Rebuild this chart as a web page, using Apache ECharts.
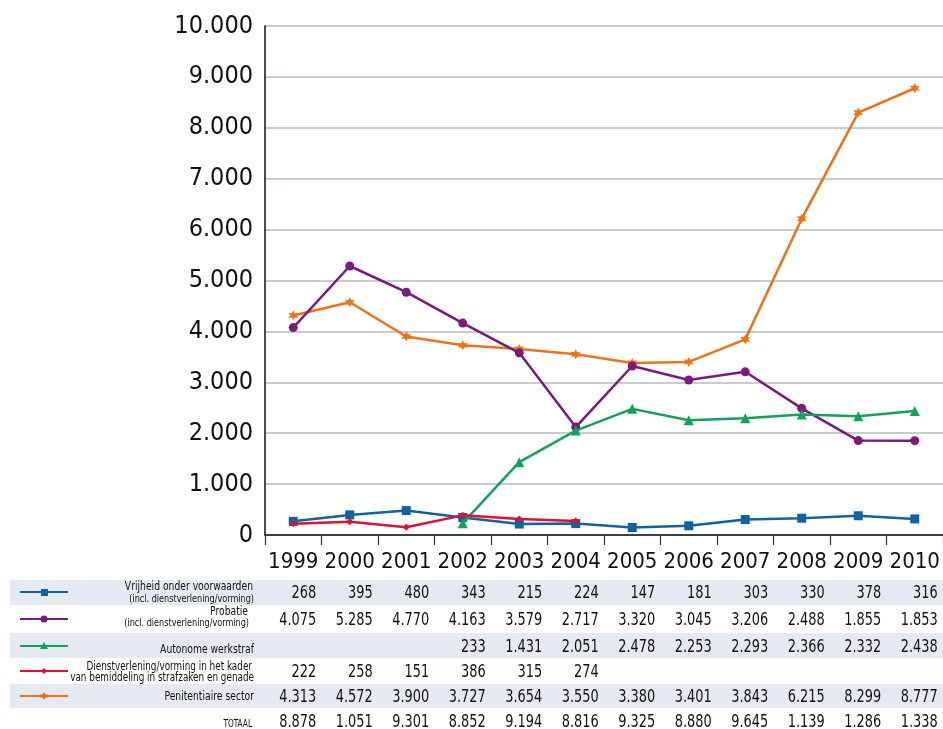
<!DOCTYPE html>
<html><head><meta charset="utf-8">
<script src="https://cdn.jsdelivr.net/npm/echarts@6/dist/echarts.min.js"></script>
<style>html,body{margin:0;padding:0;background:#fff}#c{width:943px;height:729px}</style>
</head><body><div id="c"></div>
<script>
const years = ['1999','2000','2001','2002','2003','2004','2005','2006','2007','2008','2009','2010'];
const yTicks = [0,1000,2000,3000,4000,5000,6000,7000,8000,9000,10000];
const vrijheid = [268,395,480,343,215,224,147,181,303,330,378,316];
const probatie = [4075,5285,4770,4163,3579,2120,3320,3045,3206,2488,1855,1853];
const autonome = [null,null,null,233,1431,2051,2478,2253,2293,2366,2332,2438];
const dienst = [222,258,151,386,315,274,null,null,null,null,null,null];
const penitentiair = [4313,4572,3900,3727,3654,3550,3380,3401,3843,6215,8299,8777];
const tblVrijheid = ['268','395','480','343','215','224','147','181','303','330','378','316'];
const tblProbatie = ['4.075','5.285','4.770','4.163','3.579','2.717','3.320','3.045','3.206','2.488','1.855','1.853'];
const tblAutonome = ['','','','233','1.431','2.051','2.478','2.253','2.293','2.366','2.332','2.438'];
const tblDienst = ['222','258','151','386','315','274','','','','','',''];
const tblPenit = ['4.313','4.572','3.900','3.727','3.654','3.550','3.380','3.401','3.843','6.215','8.299','8.777'];
const tblTotaal = ['8.878','1.051','9.301','8.852','9.194','8.816','9.325','8.880','9.645','1.139','1.286','1.338'];
const names = [
  ['Vrijheid onder voorwaarden','(incl. dienstverlening/vorming)'],
  ['Probatie','(incl. dienstverlening/vorming)'],
  ['Autonome werkstraf'],
  ['Dienstverlening/vorming in het kader','van bemiddeling in strafzaken en genade'],
  ['Penitentiaire sector'],
  ['TOTAAL']
];

const FONT = "'Liberation Sans Narrow','DejaVu Sans Condensed','Arial Narrow',sans-serif";
const colors = ['#0f63a3','#7a1a7c','#12a35a','#e1102f','#ee7219'];
const starPath = 'path://M0,-10 L2.5,-4.3 L8.7,-5 L5,0 L8.7,5 L2.5,4.3 L0,10 L-2.5,4.3 L-8.7,5 L-5,0 L-8.7,-5 L-2.5,-4.3 Z';
const symbols = ['rect','circle','triangle','diamond',starPath];
const symSizes = [9,9,10,7,10];
const seriesData = [vrijheid, probatie, autonome, dienst, penitentiair];

function fmt(v){ return String(v).replace(/\B(?=(\d{3})+(?!\d))/g,'.'); }

const chart = echarts.init(document.getElementById('c'), null, {renderer:'canvas'});
chart.setOption({
  animation:false,
  backgroundColor:'#fff',
  grid:{left:265, right:0, top:26, height:509},
  xAxis:{type:'category', data:years, boundaryGap:true,
    axisLine:{lineStyle:{color:'#111', width:1.5}},
    axisTick:{show:true, interval:0, length:10, lineStyle:{color:'#333', width:1.2}},
    axisLabel:{fontFamily:FONT, fontSize:22, color:'#111', margin:16, interval:0}},
  yAxis:{type:'value', min:0, max:10000, interval:1000,
    axisLine:{show:true, lineStyle:{color:'#111', width:1.5}},
    axisTick:{show:false},
    splitLine:{lineStyle:{color:'#b5bcb8', width:1.5}},
    axisLabel:{fontFamily:FONT, fontSize:25, color:'#111', margin:12, formatter:v=>fmt(v)}},
  series: seriesData.map((d,i)=>({
    type:'line', data:d, symbol:symbols[i], symbolSize:symSizes[i],
    lineStyle:{color:colors[i], width:2.5}, itemStyle:{color:colors[i]},
    connectNulls:false, z: [3,4,5,6,2][i]
  }))
});

// table
const SX = 0.82;
const rows = [
  {tbl:tblVrijheid, yNum:593, yLab:[587,599], xLab:[253,254], lab:names[0], sizes:[12.5,11], shade:[580,605], c:0},
  {tbl:tblProbatie, yNum:620, yLab:[612,623], xLab:[248,249], lab:names[1], sizes:[12.5,11], shade:null, c:1},
  {tbl:tblAutonome, yNum:647, yLab:[650], xLab:[254], lab:names[2], sizes:[12.5], shade:[633,658], c:2},
  {tbl:tblDienst, yNum:672, yLab:[667,678], xLab:[252,254], lab:names[3], sizes:[12,12], shade:null, c:3},
  {tbl:tblPenit, yNum:697, yLab:[697], xLab:[254], lab:names[4], sizes:[12.5], shade:[684,708], c:4},
  {tbl:tblTotaal, yNum:722, yLab:[724], xLab:[252], lab:names[5], sizes:[10], shade:null, c:-1}
];
const g = [];
rows.forEach(r=>{
  if(r.shade) g.push({type:'rect', z:-10, shape:{x:10,y:r.shade[0],width:933,height:r.shade[1]-r.shade[0]}, style:{fill:'#e5e9f2'}});
});
rows.forEach(r=>{
  r.lab.forEach((t,k)=>{
    g.push({type:'text', x:r.xLab[k], y:r.yLab[k], scaleX:SX, style:{text:t, fontFamily:FONT, fontSize:r.sizes[k], fill:'#111', align:'right', verticalAlign:'middle'}});
  });
  if(r.c>=0){
    const col = colors[r.c];
    g.push({type:'line', shape:{x1:20,y1:r.yNum-1,x2:68,y2:r.yNum-1}, style:{stroke:col, lineWidth:2}});
  }
  r.tbl.forEach((t,i)=>{
    if(!t) return;
    const px = chart.convertToPixel({xAxisIndex:0}, years[i]);
    g.push({type:'text', x:px+23, y:r.yNum, scaleX:SX, style:{text:t, fontFamily:FONT, fontSize:17.5, fill:'#111', align:'right', verticalAlign:'middle'}});
  });
});
// legend markers
const mk = [
  {type:'rect', shape:{x:41,y:589,width:7,height:7}},
  {type:'circle', shape:{cx:44,cy:619,r:3.5}},
  {type:'polygon', shape:{points:[[44,642],[48,649],[40,649]]}},
  {type:'polygon', shape:{points:[[44,668],[47,671],[44,674],[41,671]]}},
  {type:'polygon', shape:{points:[[44,692],[45.5,694.5],[48,694],[46.5,696],[48,698],[45.5,697.5],[44,700],[42.5,697.5],[40,698],[41.5,696],[40,694],[42.5,694.5]]}}
];
mk.forEach((m,i)=>{ m.style={fill:colors[i]}; g.push(m); });
chart.setOption({graphic:g});
</script></body></html>
